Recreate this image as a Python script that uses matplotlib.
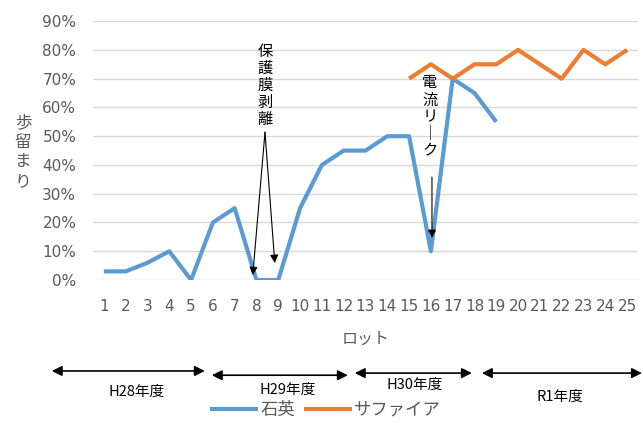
import numpy as np
import matplotlib.pyplot as plt
import matplotlib.transforms as mtransforms

plt.rcParams['font.family'] = ['DejaVu Sans', 'Noto Sans CJK JP']

# ---- data ----
lots = np.arange(1, 26)
quartz_lots = np.arange(1, 20)
quartz = [0.03, 0.03, 0.06, 0.10, 0.00, 0.20, 0.25, 0.00, 0.00, 0.25,
          0.40, 0.45, 0.45, 0.50, 0.50, 0.10, 0.70, 0.65, 0.55]
sapphire_lots = np.arange(15, 26)
sapphire = [0.70, 0.75, 0.70, 0.75, 0.75, 0.80, 0.75, 0.70, 0.80, 0.75, 0.80]

# fiscal-year spans along the lot axis
periods = ['H28年度', 'H29年度', 'H30年度', 'R1年度']
period_start = [-1.39, 5.95, 12.51, 18.34]
period_end = [5.63, 12.19, 17.88, 25.68]

gray = '#595959'
blue = '#5B9BD5'
orange = '#ED7D31'
jp = ['Noto Sans CJK JP']

fig = plt.figure(figsize=(6.43, 4.23), dpi=100)
ax = fig.add_axes([0.1446, 0.338, 0.8476, 0.612])

ax.plot(quartz_lots, quartz, color=blue, lw=3, label='石英',
        solid_joinstyle='round', solid_capstyle='butt')
ax.plot(sapphire_lots, sapphire, color=orange, lw=3, label='サファイア',
        solid_joinstyle='round', solid_capstyle='butt')

ax.set_xlim(0.5, 25.5)
ax.set_ylim(0, 0.9)
ax.set_xticks(lots)
ax.set_xticklabels([str(i) for i in lots])
yt = np.arange(0, 0.91, 0.1)
ax.set_yticks(yt)
ax.set_yticklabels(['%d%%' % round(v * 100) for v in yt])
ax.tick_params(length=0, labelsize=11, colors=gray)
ax.tick_params(axis='y', pad=12)
ax.tick_params(axis='x', pad=14)
ax.grid(axis='y', color='#D9D9D9', lw=1)
ax.set_axisbelow(True)
for s in ax.spines.values():
    s.set_visible(False)

ax.set_xlabel('ロット', fontsize=11.5, color=gray, labelpad=12, family=jp)
fig.text(0.036, 0.641, '歩\n留\nま\nり', fontsize=12, color=gray,
         ha='center', va='center', linespacing=1.2, family=jp)

# annotations
arrow_kw = dict(arrowstyle='-|>', color='black', lw=0.8,
                mutation_scale=12, shrinkA=0, shrinkB=0)
ax.text(8.39, 0.825, '保\n護\n膜\n剥\n離', fontsize=11, ha='center',
        va='top', linespacing=1.0, family=jp)
ax.annotate('', xy=(7.83, 0.017), xytext=(8.39, 0.514), arrowprops=arrow_kw)
ax.annotate('', xy=(8.84, 0.059), xytext=(8.39, 0.514), arrowprops=arrow_kw)

ax.text(15.95, 0.715, '電\n流\nリ\n｜\nク', fontsize=11, ha='center',
        va='top', linespacing=1.0, family=jp)
ax.annotate('', xy=(16.05, 0.146), xytext=(16.05, 0.358), arrowprops=arrow_kw)

# fiscal-year arrows below the axis
period_y = [0.123, 0.113, 0.118, 0.118]
label_x = [2.51, 9.44, 15.27, 21.92]
label_y = [0.073, 0.078, 0.090, 0.061]
xdata_yfig = mtransforms.blended_transform_factory(ax.transData, fig.transFigure)
for name, x0, x1, py, lx, ly in zip(periods, period_start, period_end,
                                    period_y, label_x, label_y):
    ax.annotate('', xy=(x1, py), xytext=(x0, py),
                xycoords=xdata_yfig, textcoords=xdata_yfig,
                annotation_clip=False,
                arrowprops=dict(arrowstyle='<|-|>', color='black', lw=1.2,
                                mutation_scale=15, shrinkA=0, shrinkB=0))
    ax.text(lx, ly, name, fontsize=10.5, ha='center', va='center',
            transform=xdata_yfig, family=jp)

fig.legend(loc='center', bbox_to_anchor=(0.506, 0.031), ncol=2,
           frameon=False, handlelength=2.8,
           handletextpad=0.1, columnspacing=0.5, labelcolor=gray,
           prop={'family': jp, 'size': 12.5})

fig.savefig('out.png', dpi=100)
